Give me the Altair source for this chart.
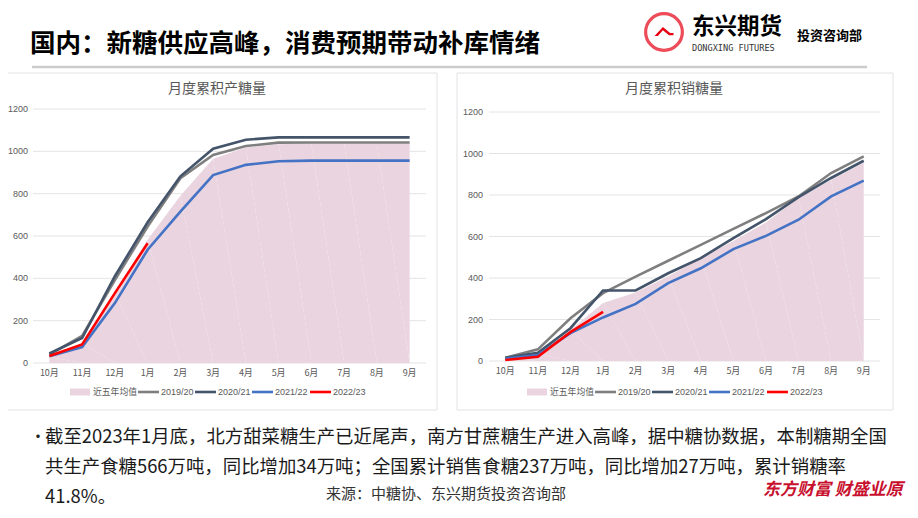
import altair as alt
import pandas as pd

# ---------------- data ----------------
months = ["10月", "11月", "12月", "1月", "2月", "3月", "4月", "5月", "6月", "7月", "8月", "9月"]
series_names = ["2019/20", "2020/21", "2021/22", "2022/23"]
series_colors = ["#7f7f7f", "#44546a", "#4472c4", "#ff0000"]
avg_label = "近五年均值"
avg_color = "#e9d4df"

# 月度累积产糖量 (万吨)
prod_avg = [28, 95, 330, 582, 790, 965, 1018, 1034, 1037, 1037, 1037, 1037]
prod_1920 = [40, 128, 392, 645, 873, 983, 1025, 1041, 1042, 1042, 1042, 1042]
prod_2021 = [45, 118, 410, 665, 882, 1012, 1055, 1066, 1066, 1066, 1066, 1066]
prod_2122 = [32, 75, 283, 535, 715, 888, 936, 953, 956, 956, 956, 956]
prod_2223 = [33, 88, 330, 566]

# 月度累积销糖量 (万吨)
sales_avg = [10, 35, 150, 280, 330, 408, 495, 578, 668, 785, 872, 955]
sales_1920 = [16, 56, 206, 327, 407, 483, 560, 637, 713, 793, 906, 986]
sales_2021 = [16, 40, 158, 340, 340, 423, 496, 592, 684, 790, 882, 965]
sales_2122 = [11, 29, 134, 210, 275, 375, 447, 539, 603, 681, 793, 869]
sales_2223 = [5, 20, 139, 237]

y_ticks = [0, 200, 400, 600, 800, 1000, 1200]

header_title = "国内：新糖供应高峰，消费预期带动补库情绪"
left_title = "月度累积产糖量"
right_title = "月度累积销糖量"
body_lines = [
    "截至2023年1月底，北方甜菜糖生产已近尾声，南方甘蔗糖生产进入高峰，据中糖协数据，本制糖期全国",
    "共生产食糖566万吨，同比增加34万吨；全国累计销售食糖237万吨，同比增加27万吨，累计销糖率",
    "41.8%。",
]
source_text = "来源：中糖协、东兴期货投资咨询部"
watermark_text = "东方财富 财盛业原"

FONT = "Noto Sans CJK SC"
NUMFONT = "Liberation Sans"


def avg_df(vals):
    return pd.DataFrame({"month": months[:len(vals)], "value": vals, "i": list(range(len(vals)))})


def lines_df(all_vals):
    rows = []
    for name, vals in zip(series_names, all_vals):
        for i, (m, v) in enumerate(zip(months, vals)):
            rows.append({"month": m, "series": name, "value": v, "i": i})
    return pd.DataFrame(rows)


def one(text):
    return alt.Chart(pd.DataFrame({"t": [text]}))


def text_at(text, x, y, size, color="#000000", weight="normal", align="left", font=FONT, style="normal"):
    return one(text).mark_text(
        align=align, baseline="middle", fontSize=size, color=color,
        fontWeight=weight, font=font, fontStyle=style
    ).encode(x=alt.value(x), y=alt.value(y), text="t:N")


def panel(title, avg_vals, line_vals, xr, yr, box, title_x, label_x, xlab_y, legend_x, legend_y):
    xs = alt.Scale(type="point", domain=months, range=xr, padding=0.5)
    ys = alt.Scale(domain=[0, 1200], range=yr, nice=False)
    X = alt.X("month:N", scale=xs, axis=None)
    layers = []
    # panel frame
    layers.append(one("").mark_rect(fill="white", stroke="#e2e2e2", strokeWidth=1).encode(
        x=alt.value(box[0]), x2=alt.value(box[1]), y=alt.value(box[2]), y2=alt.value(box[3])))
    # title
    layers.append(text_at(title, title_x, 81, 14, color="#595959", align="center"))
    # grid + y labels
    tick_df = pd.DataFrame({"v": y_ticks, "lab": [str(v) for v in y_ticks]})
    layers.append(alt.Chart(tick_df).mark_rule(color="#e4e4e4", strokeWidth=1).encode(
        y=alt.Y("v:Q", scale=ys, axis=None), x=alt.value(xr[0]), x2=alt.value(xr[1])))
    layers.append(alt.Chart(tick_df).mark_text(
        align="right", baseline="middle", fontSize=9, color="#595959", font=NUMFONT).encode(
        y=alt.Y("v:Q", scale=ys, axis=None), x=alt.value(label_x), text="lab:N"))
    # x labels
    layers.append(alt.Chart(pd.DataFrame({"month": months})).mark_text(
        align="center", baseline="middle", fontSize=9, color="#595959", font=FONT).encode(
        x=X, y=alt.value(xlab_y), text="month:N"))
    # average area
    layers.append(alt.Chart(avg_df(avg_vals)).mark_area(color=avg_color, opacity=1).encode(
        x=X, y=alt.Y("value:Q", scale=ys, axis=None), order="i:Q"))
    # season lines
    layers.append(alt.Chart(lines_df(line_vals)).mark_line(strokeWidth=2.6).encode(
        x=X, y=alt.Y("value:Q", scale=ys, axis=None),
        color=alt.Color("series:N", scale=alt.Scale(domain=series_names, range=series_colors), legend=None),
        order="i:Q"))
    # legend (drawn manually, Excel style)
    layers.append(one(avg_label).mark_rect(color=avg_color).encode(
        x=alt.value(legend_x), x2=alt.value(legend_x + 20),
        y=alt.value(legend_y - 3.5), y2=alt.value(legend_y + 3.5)))
    layers.append(text_at(avg_label, legend_x + 23, legend_y, 8.8, color="#595959"))
    offsets = [68, 125, 182, 240]
    for name, col, off in zip(series_names, series_colors, offsets):
        layers.append(one(name).mark_rule(color=col, strokeWidth=2.6).encode(
            x=alt.value(legend_x + off), x2=alt.value(legend_x + off + 21), y=alt.value(legend_y)))
        layers.append(text_at(name, legend_x + off + 23, legend_y, 9, color="#595959", font=NUMFONT))
    return layers


left = panel(left_title, prod_avg, [prod_1920, prod_2021, prod_2122, prod_2223],
             xr=[25, 418], yr=[355, 101], box=[-10, 429, 65, 402],
             title_x=209, label_x=20, xlab_y=365, legend_x=62, legend_y=384)
right = panel(right_title, sales_avg, [sales_1920, sales_2021, sales_2122, sales_2223],
              xr=[481, 872], yr=[353, 104], box=[449, 885, 65, 402],
              title_x=666, label_x=475, xlab_y=363, legend_x=519, legend_y=384)

header = [
    text_at(header_title, 22, 36, 25.5, weight="bold"),
    one("").mark_rule(color="#cccccc", strokeWidth=2.5).encode(
        x=alt.value(24), x2=alt.value(859), y=alt.value(59)),
    one("").mark_point(shape="circle", size=1350, filled=False, color="#e60012", strokeWidth=3.2).encode(
        x=alt.value(656), y=alt.value(24)),
    one("").mark_point(shape="M-0.85,0.35L-0.1,-0.45L0.55,0.1L0.85,0.1L0.85,0.3L0.45,0.3L-0.1,-0.15L-0.55,0.35Z",
                       size=500, filled=True, color="#e60012", opacity=1).encode(
        x=alt.value(656), y=alt.value(24)),
    text_at("东兴期货", 684, 18.5, 22.5, weight="bold"),
    text_at("DONGXING FUTURES", 684, 39.5, 8.6, color="#333333", font="DejaVu Sans Mono"),
    text_at("投资咨询部", 789, 28, 13, weight="bold"),
]

footer = [
    text_at("•", 22, 429, 16, color="#222222"),
    text_at(body_lines[0], 37, 429, 18.4, color="#1a1a1a"),
    text_at(body_lines[1], 37, 459, 18.4, color="#1a1a1a"),
    text_at(body_lines[2], 37, 489, 18.4, color="#1a1a1a"),
    text_at(source_text, 318, 486, 15, color="#333333"),
    text_at(watermark_text, 755, 482, 17, color="#c8102e", style="italic", weight="bold"),
]

chart = alt.layer(*(header + left + right + footer)).resolve_scale(
    x="independent", y="independent", color="independent"
).properties(
    width=902, height=502, padding=0,
    autosize=alt.AutoSizeParams(type="none"),
    background="white",
).configure_view(stroke=None)

chart.save("out.html", embed_options={"renderer": "svg", "actions": False})
